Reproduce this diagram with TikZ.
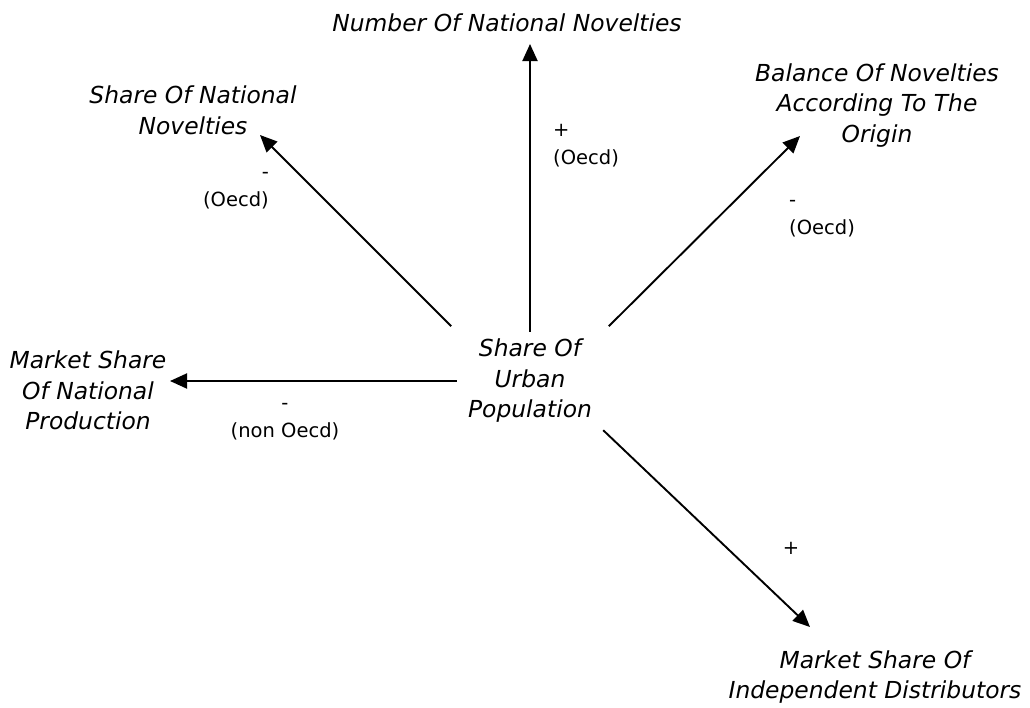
\documentclass[tikz,border=0pt]{standalone}
\usepackage{fontspec}
\setmainfont{DejaVu Sans}
\usetikzlibrary{arrows.meta}
\begin{document}
\begin{tikzpicture}[x=1pt,y=-1pt,
  lbl/.style={font=\fontsize{23.4}{30.5}\selectfont\itshape, align=center, inner sep=0pt},
  elbl/.style={font=\fontsize{19.5}{28}\selectfont, inner sep=0pt},
  arr/.style={line width=1.9pt, -{Triangle[length=17pt,width=15pt]}}]
\useasboundingbox (0,0) rectangle (1030,707);
% central factor
\node[lbl, minimum width=146pt, minimum height=98pt] (c) at (530,381) {\strut Share Of\\Urban\\Population\strut};
% outcomes
\node[lbl] (t)  at (507,24.9)  {\strut Number Of National Novelties\strut};
\node[lbl] (nw) at (193,112.9) {\strut Share Of National\\Novelties\strut};
\node[lbl] (ne) at (877,105.4) {\strut Balance Of Novelties\\According To The\\Origin\strut};
\node[lbl] (w)  at (88,392.9)  {\strut Market Share\\Of National\\Production\strut};
\node[lbl] (se) at (875,677.4) {\strut Market Share Of\\Independent Distributors\strut};
% arrow tips
\coordinate (tN)  at (530,44);
\coordinate (tNW) at (260,135);
\coordinate (tNE) at (800,136);
\coordinate (tW)  at (170,381);
\coordinate (tSE) at (810,627);
% connectors
\draw[arr] (c.north) -- (tN);
\draw[arr, shorten <=8pt] (c.north west) -- (tNW);
\draw[arr, shorten <=8pt] (c.north east) -- (tNE);
\draw[arr] (c.west) -- (tW);
\draw[arr] (c.south east) -- (tSE);
% connector labels
\node[elbl, align=left, anchor=west]  (lN)  at (553,144.4) {\strut+\\(Oecd)\strut};
\node[elbl, align=right, anchor=east] (lNW) at (269,186.4) {\strut-\\(Oecd)\strut};
\node[elbl, align=left, anchor=west]  (lNE) at (789,214.4) {\strut-\\(Oecd)\strut};
\node[elbl, align=center]             (lW)  at (285,418)   {\strut-\\(non Oecd)\strut};
\node[elbl]                           (lSE) at (791,548)   {+};
\end{tikzpicture}
\end{document}
